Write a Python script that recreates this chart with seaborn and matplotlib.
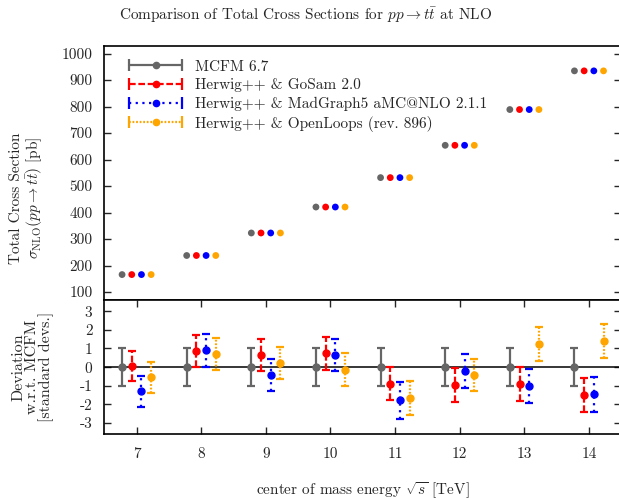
import numpy as np
import pandas as pd
import matplotlib
matplotlib.use("Agg")
import matplotlib.pyplot as plt
import seaborn as sns
from matplotlib.legend_handler import HandlerErrorbar

# --- data -------------------------------------------------------------
energies = [7, 8, 9, 10, 11, 12, 13, 14]
series_names = [
    "MCFM 6.7",
    "Herwig++ & GoSam 2.0",
    "Herwig++ & MadGraph5 aMC@NLO 2.1.1",
    "Herwig++ & OpenLoops (rev. 896)",
]

# total cross sections [pb]
xsec_mcfm = [166, 238, 323, 421, 532, 654, 789, 935]
xsec_gosam = [166, 238, 323, 421, 532, 654, 789, 935]
xsec_madgraph = [166, 238, 323, 421, 532, 654, 789, 935]
xsec_openloops = [166, 238, 323, 421, 532, 654, 789, 935]

# deviation w.r.t. MCFM in standard deviations, and its uncertainty
dev_mcfm = [0, 0, 0, 0, 0, 0, 0, 0]
err_mcfm = [1, 1, 1, 1, 1, 1, 1, 1]
dev_gosam = [0.07, 0.88, 0.67, 0.74, -0.88, -0.95, -0.90, -1.48]
err_gosam = [0.80, 0.85, 0.86, 0.90, 0.88, 0.90, 0.90, 0.92]
dev_madgraph = [-1.30, 0.90, -0.41, 0.65, -1.78, -0.22, -1.00, -1.46]
err_madgraph = [0.85, 0.87, 0.85, 0.88, 1.00, 0.90, 0.92, 0.93]
dev_openloops = [-0.54, 0.72, 0.23, -0.14, -1.64, -0.43, 1.24, 1.40]
err_openloops = [0.82, 0.85, 0.87, 0.89, 0.90, 0.87, 0.92, 0.93]

# --- style ------------------------------------------------------------
sns.set_style("ticks")
plt.rcParams["font.family"] = ["cmr10", "DejaVu Serif"]
plt.rcParams["mathtext.fontset"] = "cm"
plt.rcParams["axes.unicode_minus"] = False
plt.rcParams["axes.formatter.use_mathtext"] = False

colors = ["#666666", "#ff0000", "#0000ff", "#ffa500"]
styles = ["-", (0, (3, 1.2)), (0, (1, 2)), (0, (0.8, 0.8))]
offsets = [-0.225, -0.075, 0.075, 0.225]

xsecs = [xsec_mcfm, xsec_gosam, xsec_madgraph, xsec_openloops]
devs = [dev_mcfm, dev_gosam, dev_madgraph, dev_openloops]
errs = [err_mcfm, err_gosam, err_madgraph, err_openloops]

rows = []
for name, off, xs, dv, er in zip(series_names, offsets, xsecs, devs, errs):
    for e, x, d, s in zip(energies, xs, dv, er):
        rows.append({"series": name, "pos": e + off, "xsec": x, "dev": d, "err": s})
df = pd.DataFrame(rows)

fig = plt.figure(figsize=(6.19, 4.99), dpi=100)
W, H = 619, 499
left, right = 104.3 / W, 621.3 / W
ax_top = fig.add_axes([left, 1 - 300 / H, right - left, (300 - 45.7) / H])
ax_bot = fig.add_axes([left, 1 - 434.3 / H, right - left, (434.3 - 300) / H])

palette = dict(zip(series_names, colors))

# --- upper panel: cross sections ---------------------------------------
sns.scatterplot(data=df, x="pos", y="xsec", hue="series", palette=palette,
                s=24, edgecolor="none", legend=False, ax=ax_top, zorder=3)
ax_top.set_xlim(6.5, 14.5)
ax_top.set_ylim(70, 1030)
ax_top.set_yticks(np.arange(100, 1001, 100))
ax_top.set_xticks(energies)
ax_top.tick_params(axis="x", which="both", bottom=False, top=False,
                   labelbottom=False)
ax_top.tick_params(axis="y", direction="in", left=True, right=True,
                   length=5, width=1, labelsize=11, pad=8.5)
ax_top.set_xlabel("")
ax_top.set_ylabel("Total Cross Section\n"
                  r"$\sigma_{\mathrm{NLO}}(pp \to t\bar{t})$ [pb]",
                  fontsize=11, multialignment="center", linespacing=1.1)
ax_top.yaxis.set_label_coords(-0.114, 0.40)

# legend handles drawn as horizontal error bars
handles = []
for name, c, ls in zip(series_names, colors, styles):
    h = ax_top.errorbar([np.nan], [np.nan], xerr=[1], fmt="o", color=c,
                        ms=4.5, elinewidth=1.6, capsize=4, capthick=1.6,
                        label=name)
    h[2][0].set_linestyle(ls)
    handles.append(h)
leg = ax_top.legend(handles=handles, labels=series_names, loc="upper left",
                    bbox_to_anchor=(0.03, 0.98), frameon=False,
                    fontsize=11, handlelength=3.5, handletextpad=0.8,
                    labelspacing=0.3, borderaxespad=0.2,
                    handler_map={type(handles[0]): HandlerErrorbar(xerr_size=1.75)})

# --- lower panel: deviations -------------------------------------------
for name, c, ls in zip(series_names, colors, styles):
    sub = df[df["series"] == name]
    eb = ax_bot.errorbar(sub["pos"], sub["dev"], yerr=sub["err"], fmt="o",
                         color=c, ms=5, elinewidth=1.6, capsize=3,
                         capthick=1.6, zorder=3)
    eb[2][0].set_linestyle(ls)
ax_bot.axhline(0, color="black", lw=1.1, zorder=2)
ax_bot.set_xlim(6.5, 14.5)
ax_bot.set_ylim(-3.6, 3.6)
ax_bot.set_xticks(energies)
ax_bot.set_xticklabels([str(e) for e in energies])
ax_bot.set_yticks([-3, -2, -1, 0, 1, 2, 3])
ax_bot.set_yticklabels(["-3", "-2", "-1", "0", "1", "2", "3"])
ax_bot.tick_params(axis="both", direction="in", left=True, right=True,
                   top=True, bottom=True, length=5, width=1, labelsize=11)
ax_bot.tick_params(axis="y", pad=8.5)
ax_bot.tick_params(axis="x", pad=9)
ax_bot.set_ylabel("Deviation\nw.r.t. MCFM\n[standard devs.]", fontsize=11.5,
                  multialignment="center", linespacing=0.95)
ax_bot.yaxis.set_label_coords(-0.097, 0.5)
ax_bot.set_xlabel(r"center of mass energy $\sqrt{s}$ [TeV]", fontsize=11,
                  labelpad=14)

for ax in (ax_top, ax_bot):
    for sp in ax.spines.values():
        sp.set_visible(True)
        sp.set_linewidth(1.2)
        sp.set_color("black")

fig.text(0.493, 1 - 15 / H,
         r"Comparison of Total Cross Sections for $pp \to t\bar{t}$ at NLO",
         ha="center", va="center", fontsize=11)

fig.savefig("out.png", dpi=100)
